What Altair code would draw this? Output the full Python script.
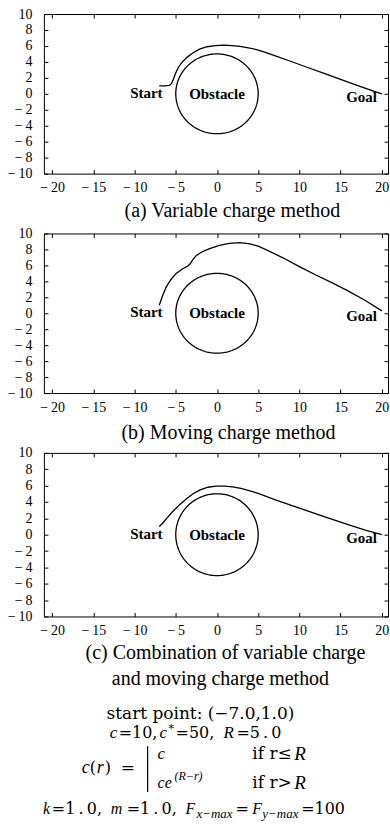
import altair as alt
import numpy as np
import pandas as pd

SERIF = "DejaVu Serif"
TIMES = "Liberation Serif"

# Axis ranges and ticks shared by the three panels
X_DOMAIN = [-21, 20.75]
Y_DOMAIN = [-10, 10]
X_TICKS = [-20, -15, -10, -5, 0, 5, 10, 15, 20]
Y_TICKS = [-10, -8, -6, -4, -2, 0, 2, 4, 6, 8, 10]

# Circular obstacle (centre and radius R)
OBSTACLE_X, OBSTACLE_Y, OBSTACLE_R = 0.0, 0.0, 5.0

# (a) variable charge method
path_a_x = [-7.0, -6.3, -5.8, -5.5, -5.3, -5.05, -4.7, -4.2, -3.6, -2.9, -2.1, -1.2, -0.2,
            0.8, 1.8, 2.8, 3.8, 4.8, 5.6, 7.0, 9.0, 11.0, 13.0, 15.0, 17.0, 19.0, 20.0]
path_a_y = [1.0, 1.0, 1.05, 1.3, 1.8, 2.5, 3.3, 4.0, 4.6, 5.15, 5.6, 5.9, 6.05,
            6.1, 6.05, 5.95, 5.75, 5.55, 5.3, 4.8, 4.05, 3.3, 2.55, 1.8, 1.05, 0.35, 0.0]

# (b) moving charge method
path_b_x = [-7.0, -6.6, -6.15, -5.6, -4.95, -4.2, -3.5, -3.25, -2.95, -2.5, -1.8, -0.9, 0.3,
            1.5, 2.8, 4.0, 5.0, 6.0, 8.0, 10.0, 12.0, 14.0, 16.0, 18.0, 20.0]
path_b_y = [1.0, 2.2, 3.3, 4.2, 5.0, 5.55, 5.95, 6.2, 6.7, 7.25, 7.7, 8.1, 8.5,
            8.75, 8.85, 8.7, 8.4, 7.95, 6.95, 5.85, 4.8, 3.8, 2.75, 1.6, 0.3]

# (c) combination of both methods
path_c_x = [-7.0, -6.6, -6.1, -5.4, -4.6, -3.7, -2.9, -2.1, -1.1, -0.1, 0.9, 1.9, 2.9, 3.9,
            5.0, 7.0, 10.0, 13.0, 16.0, 18.0, 20.0]
path_c_y = [1.0, 1.4, 2.0, 2.8, 3.6, 4.4, 5.0, 5.45, 5.8, 5.95, 5.95, 5.85, 5.65, 5.4,
            5.05, 4.3, 3.25, 2.2, 1.2, 0.55, 0.0]

# In-plot labels
end_labels = ["Start", "Goal"]
end_label_x = [-6.6, 19.4]
end_label_y = [0.1, -0.4]
obstacle_label = "Obstacle"

# Panel captions (one entry per caption line)
captions = [
    ["(a) Variable charge method"],
    ["(b) Moving charge method"],
    ["(c) Combination of variable charge", "and moving charge method"],
]

PANEL_W = 345
PANEL_H = [160, 160, 164]
# caption line centres, in pixels from the panel's left / bottom edge
CAPTION_X = [[189], [185], [182, 177]]
CAPTION_DY = [[37], [40], [37, 63]]

MINUS_EXPR = "datum.value < 0 ? '\u2212\u2009' + abs(datum.value) : datum.label"
ONE = pd.DataFrame({"k": [0]})

theta = np.linspace(0, 2 * np.pi, 241)
circle_df = pd.DataFrame({
    "x": OBSTACLE_X + OBSTACLE_R * np.cos(theta),
    "y": OBSTACLE_Y + OBSTACLE_R * np.sin(theta),
    "i": np.arange(len(theta)),
})
end_df = pd.DataFrame({"x": end_label_x, "y": end_label_y, "label": end_labels})
obst_df = pd.DataFrame({"x": [OBSTACLE_X], "y": [OBSTACLE_Y], "label": [obstacle_label]})


def panel(px, py, caption, h, cap_x, cap_dy):
    path_df = pd.DataFrame({"x": px, "y": py, "i": range(len(px))})
    x_enc = alt.X(
        "x:Q",
        scale=alt.Scale(domain=X_DOMAIN, nice=False, zero=False),
        axis=alt.Axis(
            values=X_TICKS, title=None, labelExpr=MINUS_EXPR, ticks=False, domain=False,
            grid=True, gridDash=[4, h - 8, 4], gridColor="black", gridOpacity=1, gridWidth=1,
            labelFont=TIMES, labelFontSize=14, labelColor="black", labelPadding=7,
            labelFlush=False,
        ),
    )
    y_enc = alt.Y(
        "y:Q",
        scale=alt.Scale(domain=Y_DOMAIN, nice=False, zero=False),
        axis=alt.Axis(
            values=Y_TICKS, title=None, labelExpr=MINUS_EXPR, ticks=False, domain=False,
            grid=True, gridDash=[4, PANEL_W - 8, 4], gridColor="black", gridOpacity=1,
            gridWidth=1, labelFont=TIMES, labelFontSize=14, labelColor="black",
            labelPadding=12, labelFlush=False,
        ),
    )
    obstacle = alt.Chart(circle_df).mark_line(color="black", strokeWidth=1.3).encode(
        x=x_enc, y=y_enc, order=alt.Order("i:Q")
    )
    path = alt.Chart(path_df).mark_line(color="black", strokeWidth=1.3).encode(
        x=x_enc, y=y_enc, order=alt.Order("i:Q")
    )
    ends = alt.Chart(end_df).mark_text(
        font=TIMES, fontSize=15, fontWeight="bold", align="right", baseline="middle", color="black"
    ).encode(x=x_enc, y=y_enc, text="label:N")
    obst = alt.Chart(obst_df).mark_text(
        font=TIMES, fontSize=15, fontWeight="bold", align="center", baseline="middle", color="black"
    ).encode(x=x_enc, y=y_enc, text="label:N")
    caption_layers = [
        alt.Chart(ONE).mark_text(
            text=line, font=TIMES, fontSize=20, align="center", baseline="middle", color="black"
        ).encode(x=alt.value(cx), y=alt.value(h + dy))
        for line, cx, dy in zip(caption, cap_x, cap_dy)
    ]
    return alt.layer(obstacle, path, ends, obst, *caption_layers).properties(
        width=PANEL_W, height=h
    )


# Parameter block under the panels
BLOCK_LEFT, BLOCK_TOP, BLOCK_H = 44, 677, 150


def piece(text, x, y, size=16, font=SERIF, style="normal", align="left"):
    return alt.Chart(ONE).mark_text(
        text=text, font=font, fontSize=size, fontStyle=style, align=align,
        baseline="middle", color="black",
    ).encode(x=alt.value(x - BLOCK_LEFT), y=alt.value(y - BLOCK_TOP))


def var(text, x, y, size=17):
    return piece(text, x, y, size=size, font=TIMES, style="italic")


brace = alt.Chart(ONE).mark_rule(color="black", strokeWidth=1.2).encode(
    x=alt.value(148 - BLOCK_LEFT), y=alt.value(747 - BLOCK_TOP), y2=alt.value(793 - BLOCK_TOP)
)

TS = "\u2009"  # thin space used around decimal points

block_layers = [
    piece("start point: (\u22127.0,1.0)", 201, 715, size=17, align="center"),
    var("c", 110, 734), piece("=10,", 119, 734), var("c", 160, 734),
    piece("*", 169, 730, size=11), piece("=50,", 176, 734), var("R", 224, 734),
    piece(f"=5{TS}.{TS}0", 237, 734),
    var("c", 82, 769, size=18), piece("(", 90, 769), var("r", 97, 769, size=18),
    piece(")", 105, 769), piece("=", 121, 769, size=17),
    brace,
    var("c", 158, 755), var("ce", 158, 784, size=16), var("(R\u2212r)", 175, 777, size=12),
    piece("if r\u2264", 253, 755, size=17), var("R", 295, 755, size=19),
    piece("if r>", 253, 784, size=17), var("R", 295, 784, size=19),
    var("k", 43, 810, size=16), piece(f"=1{TS}.{TS}0,", 52, 810), var("m", 111, 810, size=16),
    piece(f"=1{TS}.{TS}0,", 127, 810),
    var("F", 186, 810, size=16), var("x\u2212max", 197, 815, size=13), piece("=", 236, 810),
    var("F", 253, 810, size=16), var("y\u2212max", 263, 815, size=13), piece("=100", 302, 810),
]
block = alt.layer(*block_layers).properties(
    width=PANEL_W, height=BLOCK_H, view=alt.ViewBackground(strokeOpacity=0)
)

panels = [
    panel(px, py, captions[i], PANEL_H[i], CAPTION_X[i], CAPTION_DY[i])
    for i, (px, py) in enumerate(
        [(path_a_x, path_a_y), (path_b_x, path_b_y), (path_c_x, path_c_y)]
    )
]

chart = (
    alt.vconcat(*panels, block, spacing=60, bounds="flush")
    .properties(padding={"left": 6, "top": 5, "right": 0, "bottom": 0}, background="white")
    .configure_view(stroke="black", strokeWidth=1)
)

chart.save("out.html", embed_options={"renderer": "svg", "actions": False})
